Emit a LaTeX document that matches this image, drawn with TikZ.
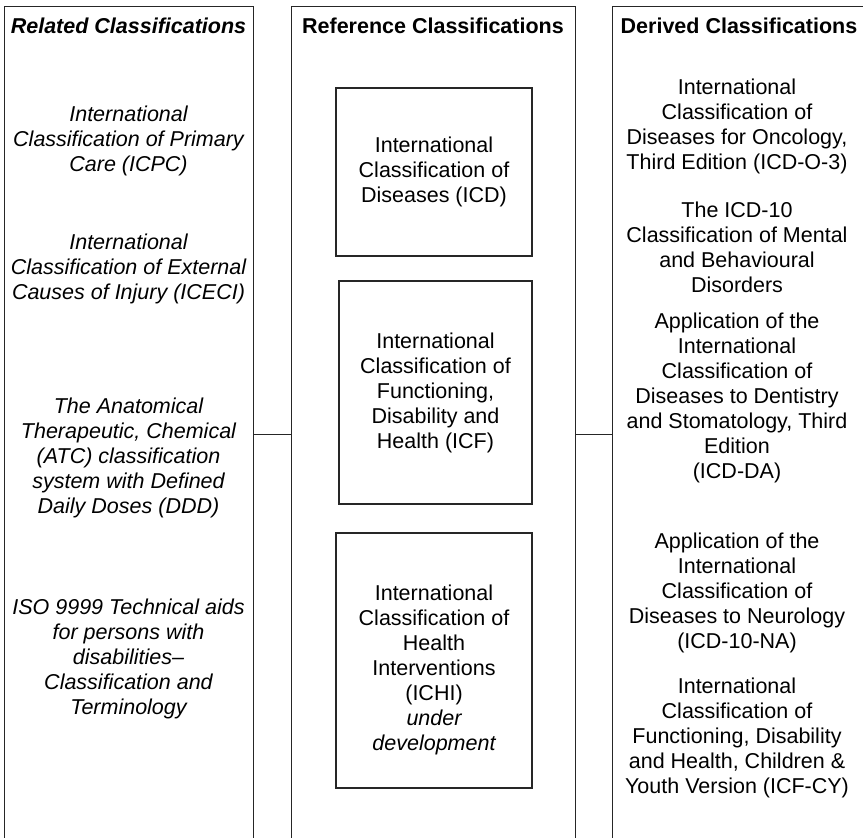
\documentclass[tikz,border=0pt]{standalone}
\usepackage{fontspec}
\setmainfont{Liberation Sans}
\begin{document}
\begin{tikzpicture}[x=1pt,y=-1pt,
   every node/.style={font=\fontsize{21.5}{25}\selectfont, align=center, inner sep=0pt},
   column/.style={draw=black!85, line width=1.2pt, minimum width=#1, minimum height=856, anchor=north west},
   refbox/.style={draw=black!85, line width=1.2pt},
   link/.style={draw=black!85, line width=1.2pt}]

   \useasboundingbox (0,0) rectangle (863,838);

   \node[column=249] (rel) at (4,6) {};
   \node[column=284] (ref) at (291,6) {};
   \node[column=260] (der) at (612,6) {};

   \node (relhead) at (128.5,26) {\bfseries\itshape Related Classifications};
   \node (refhead) at (433,26) {\bfseries Reference Classifications};
   \node (derhead) at (739,26) {\bfseries Derived Classifications};

   \node (icpc)  at (128.5,141) {\itshape International\\\itshape Classification of Primary\\\itshape Care (ICPC)};
   \node (iceci) at (128.5,269) {\itshape International\\\itshape Classification of External\\\itshape Causes of Injury (ICECI)};
   \node (atc)   at (128.5,458) {\itshape The Anatomical\\\itshape Therapeutic, Chemical\\\itshape (ATC) classification\\\itshape system with Defined\\\itshape Daily Doses (DDD)};
   \node (iso)   at (128.5,659) {\itshape ISO 9999 Technical aids\\\itshape for persons with\\\itshape disabilities--\\\itshape Classification and\\\itshape Terminology};

   \node[refbox, minimum width=196, minimum height=168] (icd) at (434,172)
      {International\\Classification of\\Diseases (ICD)};
   \node[refbox, minimum width=193, minimum height=223] (icf) at (435.5,392.5)
      {International\\Classification of\\Functioning,\\Disability and\\Health (ICF)};
   \node[refbox, minimum width=196, minimum height=255] (ichi) at (434,660.5) {};
   \node (ichitext) at ([yshift=-9pt]ichi.center)
      {International\\Classification of\\Health\\Interventions\\(ICHI)\\\itshape under\\\itshape development};

   \node (icdo)  at (737,126) {International\\Classification of\\Diseases for Oncology,\\Third Edition (ICD-O-3)};
   \node (icdm)  at (737,247) {The ICD-10\\Classification of Mental\\and Behavioural\\Disorders};
   \node (icdda) at (737,398) {Application of the\\International\\Classification of\\Diseases to Dentistry\\and Stomatology, Third\\Edition\\(ICD-DA)};
   \node (icdna) at (737,593) {Application of the\\International\\Classification of\\Diseases to Neurology\\(ICD-10-NA)};
   \node (icfcy) at (737,738) {International\\Classification of\\Functioning, Disability\\and Health, Children \&\\Youth Version (ICF-CY)};

   \draw[link] (rel.east) -- (ref.west);
   \draw[link] (ref.east) -- (der.west);
\end{tikzpicture}
\end{document}
